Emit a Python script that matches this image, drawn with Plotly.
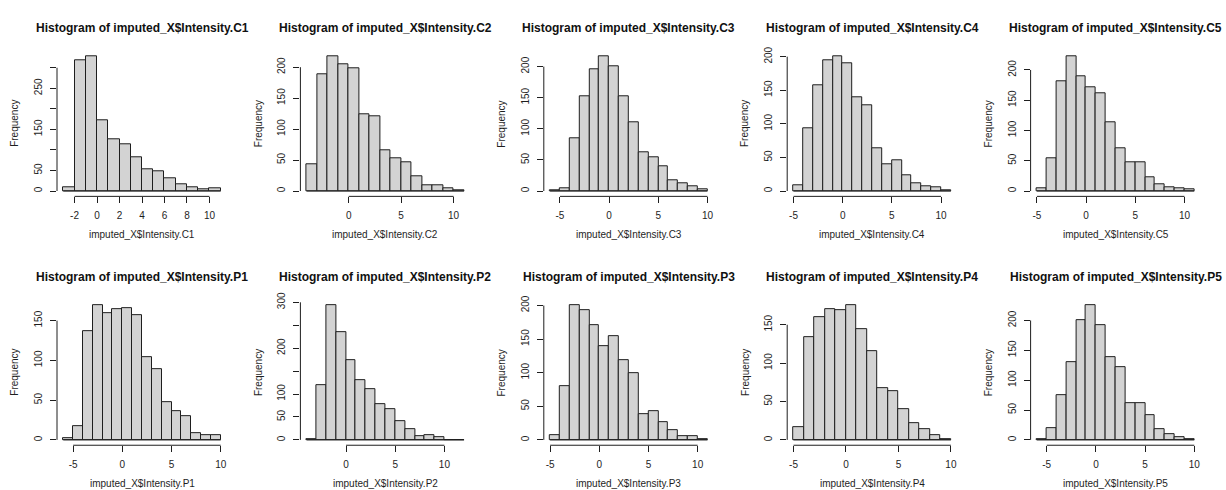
import plotly.graph_objects as go

# Histogram counts per sample (unit-width bins starting at the given left break)
names = ["C1", "C2", "C3", "C4", "C5", "P1", "P2", "P3", "P4", "P5"]

start_C1 = -3
counts_C1 = [8, 318, 327, 172, 126, 114, 81, 54, 47, 30, 16, 8, 4, 6]
start_C2 = -4
counts_C2 = [43, 189, 217, 205, 198, 124, 120, 66, 53, 46, 23, 9, 9, 5, 1]
start_C3 = -6
counts_C3 = [1, 4, 85, 153, 196, 216, 200, 152, 110, 63, 55, 39, 18, 13, 7, 3]
start_C4 = -5
counts_C4 = [9, 93, 157, 194, 200, 190, 139, 127, 64, 40, 45, 23, 11, 7, 5, 1]
start_C5 = -5
counts_C5 = [5, 54, 181, 222, 189, 171, 161, 113, 71, 47, 47, 22, 11, 6, 4, 3]
start_P1 = -6
counts_P1 = [2, 17, 137, 169, 160, 164, 166, 157, 104, 89, 47, 36, 30, 9, 6, 6]
start_P2 = -4
counts_P2 = [2, 120, 293, 236, 174, 130, 111, 77, 66, 40, 24, 9, 11, 5, 0, 0]
start_P3 = -5
counts_P3 = [7, 80, 200, 193, 171, 140, 155, 119, 99, 38, 43, 27, 15, 6, 6, 1]
start_P4 = -5
counts_P4 = [17, 134, 160, 170, 169, 175, 144, 116, 68, 64, 40, 22, 14, 6, 1]
start_P5 = -6
counts_P5 = [1, 19, 75, 130, 201, 225, 192, 138, 121, 61, 61, 42, 18, 9, 5, 1]

# Axis ticks and which tick labels are printed
xticks_C1 = [-2, 0, 2, 4, 6, 8, 10]
xticks_C2 = [0, 5, 10]
xticks_C3 = [-5, 0, 5, 10]
xticks_C4 = [-5, 0, 5, 10]
xticks_C5 = [-5, 0, 5, 10]
xticks_P1 = [-5, 0, 5, 10]
xticks_P2 = [0, 5, 10]
xticks_P3 = [-5, 0, 5, 10]
xticks_P4 = [-5, 0, 5, 10]
xticks_P5 = [-5, 0, 5, 10]

yticks_C1 = [0, 50, 100, 150, 200, 250, 300]
ylabels_C1 = ["0", "50", "", "150", "", "250", ""]
yticks_C2 = [0, 50, 100, 150, 200]
yticks_C3 = [0, 50, 100, 150, 200]
yticks_C4 = [0, 50, 100, 150, 200]
yticks_C5 = [0, 50, 100, 150, 200]
yticks_P1 = [0, 50, 100, 150]
yticks_P2 = [0, 50, 100, 150, 200, 250, 300]
ylabels_P2 = ["0", "50", "100", "", "200", "", "300"]
yticks_P3 = [0, 50, 100, 150, 200]
yticks_P4 = [0, 50, 100, 150]
yticks_P5 = [0, 50, 100, 150, 200]

panels = [
    (start_C1, counts_C1, xticks_C1, yticks_C1, ylabels_C1),
    (start_C2, counts_C2, xticks_C2, yticks_C2, None),
    (start_C3, counts_C3, xticks_C3, yticks_C3, None),
    (start_C4, counts_C4, xticks_C4, yticks_C4, None),
    (start_C5, counts_C5, xticks_C5, yticks_C5, None),
    (start_P1, counts_P1, xticks_P1, yticks_P1, None),
    (start_P2, counts_P2, xticks_P2, yticks_P2, ylabels_P2),
    (start_P3, counts_P3, xticks_P3, yticks_P3, None),
    (start_P4, counts_P4, xticks_P4, yticks_P4, None),
    (start_P5, counts_P5, xticks_P5, yticks_P5, None),
]

W, H = 1226, 490
FONT = "Liberation Sans, Arial, sans-serif"
INK = "#1e1e1e"
col_left = [57 + 243.4 * c for c in range(5)]
plot_w = 170
row_top = [44, 297]
plot_h = 147.5

fig = go.Figure()
shapes = []
annotations = []

for i, (start, counts, xt, yt, ylab) in enumerate(panels):
    n = i + 1
    r, c = divmod(i, 5)
    xa = "x" if n == 1 else f"x{n}"
    ya = "y" if n == 1 else f"y{n}"
    nbins = len(counts)
    b0, b1 = start, start + nbins
    centers = [start + k + 0.5 for k in range(nbins)]
    ymax = max(counts)

    fig.add_trace(go.Bar(
        x=centers, y=counts, width=1.0, xaxis=xa, yaxis=ya,
        marker=dict(color="#d3d3d3", line=dict(color=INK, width=1)),
        showlegend=False, hoverinfo="x+y",
    ))
    # baseline under the bins (visible where a bin is empty)
    fig.add_trace(go.Scatter(
        x=[b0, b1], y=[0, 0], mode="lines", xaxis=xa, yaxis=ya,
        line=dict(color=INK, width=1), showlegend=False, hoverinfo="skip",
    ))

    L = col_left[c]
    T = row_top[r]
    xdom = [L / W, (L + plot_w) / W]
    ydom = [1 - (T + plot_h) / H, 1 - T / H]
    span = b1 - b0

    axis_common = dict(
        showgrid=False, zeroline=False, showline=False,
        ticks="outside", ticklen=6, tickwidth=1, tickcolor=INK,
        tickfont=dict(family=FONT, size=10, color=INK),
        ticklabelstandoff=4, fixedrange=True,
    )
    fig.layout[f"xaxis{'' if n == 1 else n}"] = dict(
        domain=xdom, anchor=ya,
        range=[b0 - 0.04 * span, b1 + 0.04 * span],
        tickmode="array", tickvals=xt, ticktext=[str(v) for v in xt],
        **axis_common,
    )
    fig.layout[f"yaxis{'' if n == 1 else n}"] = dict(
        domain=ydom, anchor=xa,
        range=[-0.04 * ymax, 1.04 * ymax],
        tickmode="array", tickvals=yt,
        ticktext=ylab if ylab is not None else [str(v) for v in yt],
        tickangle=-90,
        **axis_common,
    )

    # axis lines run from the first to the last tick
    shapes.append(dict(type="line", xref=xa, yref=f"{ya} domain",
                       x0=xt[0], x1=xt[-1], y0=0, y1=0,
                       line=dict(color=INK, width=1)))
    shapes.append(dict(type="line", xref=f"{xa} domain", yref=ya,
                       x0=0, x1=0, y0=yt[0], y1=yt[-1],
                       line=dict(color=INK, width=1)))

    cx = (L + plot_w / 2) / W
    annotations.append(dict(
        text=f"<b>Histogram of imputed_X$Intensity.{names[i]}</b>",
        xref="paper", yref="paper", x=cx, y=1 - (T - 24) / H,
        xanchor="center", yanchor="middle", showarrow=False,
        font=dict(family=FONT, size=12, color="#111111"),
    ))
    annotations.append(dict(
        text=f"imputed_X$Intensity.{names[i]}",
        xref="paper", yref="paper", x=cx, y=1 - (T + plot_h + 39) / H,
        xanchor="center", yanchor="middle", showarrow=False,
        font=dict(family=FONT, size=10, color=INK),
    ))
    annotations.append(dict(
        text="Frequency", textangle=-90,
        xref="paper", yref="paper", x=(L - 42) / W, y=1 - (T + plot_h / 2) / H,
        xanchor="center", yanchor="middle", showarrow=False,
        font=dict(family=FONT, size=10, color=INK),
    ))

fig.update_layout(
    width=W, height=H, autosize=False,
    margin=dict(l=0, r=0, t=0, b=0),
    paper_bgcolor="white", plot_bgcolor="white",
    bargap=0, shapes=shapes, annotations=annotations,
)

fig.write_html("out.html")
